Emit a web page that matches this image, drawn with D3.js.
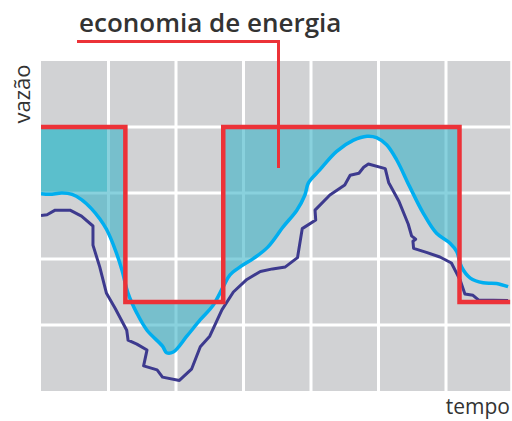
<!DOCTYPE html>
<html>
<head>
<meta charset="utf-8">
<script src="https://cdn.jsdelivr.net/npm/d3@7"></script>
<style>
  body { margin: 0; background: #fff; }
  text { font-family: "Open Sans", sans-serif; fill: #333; }
</style>
</head>
<body>
<div class="chart"></div>
<script>
// grid: 7 columns of time, 5 rows of flow
const xTicks = [0, 1, 2, 3, 4, 5, 6, 7];
const yTicks = [0, 1, 2, 3, 4, 5];

// red step: contracted flow
const stepT = [0, 1.25, 1.25, 2.7, 2.7, 6.2, 6.2, 6.95];
const stepV = [4, 4, 1.35, 1.35, 4, 4, 1.35, 1.35];

// cyan line: consumption curve
const cyanT = [0, 0.13, 0.31, 0.46, 0.6, 0.75, 0.87, 0.97, 1.1, 1.2, 1.29, 1.42, 1.57, 1.8, 1.86, 1.96, 2.16, 2.36, 2.55, 2.7, 2.8, 2.95, 3.15, 3.36, 3.59, 3.79, 3.91, 3.96, 4.13, 4.38, 4.63, 4.83, 4.97, 5.12, 5.27, 5.46, 5.66, 5.86, 6.06, 6.16, 6.23, 6.36, 6.55, 6.75, 6.92];
const cyanV = [2.99, 2.98, 3.0, 2.98, 2.9, 2.76, 2.61, 2.45, 2.14, 1.83, 1.48, 1.18, 0.92, 0.68, 0.58, 0.59, 0.83, 1.08, 1.3, 1.58, 1.76, 1.88, 2.01, 2.18, 2.49, 2.74, 2.97, 3.15, 3.35, 3.63, 3.8, 3.86, 3.84, 3.73, 3.5, 3.1, 2.7, 2.39, 2.24, 2.11, 1.88, 1.71, 1.64, 1.63, 1.58];

// navy line: real flow
const navyT = [0, 0.09, 0.21, 0.43, 0.6, 0.77, 0.77, 0.87, 0.97, 1.1, 1.27, 1.29, 1.42, 1.57, 1.52, 1.72, 1.8, 2.05, 2.23, 2.36, 2.5, 2.68, 2.85, 3.05, 3.25, 3.43, 3.62, 3.8, 3.87, 4.07, 4.06, 4.28, 4.5, 4.58, 4.71, 4.78, 4.85, 5.1, 5.15, 5.3, 5.44, 5.49, 5.55, 5.51, 5.52, 5.71, 5.91, 6.08, 6.21, 6.28, 6.4, 6.48, 6.92];
const navyV = [2.66, 2.67, 2.74, 2.74, 2.65, 2.5, 2.21, 1.88, 1.48, 1.25, 0.92, 0.77, 0.71, 0.62, 0.38, 0.32, 0.21, 0.16, 0.33, 0.67, 0.83, 1.23, 1.5, 1.69, 1.81, 1.85, 1.88, 2.02, 2.46, 2.59, 2.74, 2.97, 3.12, 3.27, 3.3, 3.39, 3.44, 3.37, 3.16, 2.88, 2.53, 2.35, 2.3, 2.27, 2.16, 2.1, 2.03, 1.94, 1.68, 1.47, 1.45, 1.38, 1.37];

const width = 512, height = 421;
const margin = { top: 61, right: -1.5, bottom: 30, left: 41 };

const x = d3.scaleLinear().domain([0, 7]).range([margin.left, width - margin.right]);
const y = d3.scaleLinear().domain([0, 5]).range([height - margin.bottom, margin.top]);
const plotRight = 510.5;

const svg = d3.select('.chart')
  .append('svg')
    .attr('width', width)
    .attr('height', height);

const defs = svg.append('defs');
defs.append('clipPath').attr('id', 'plot')
  .append('rect')
    .attr('x', x(0)).attr('y', y(5))
    .attr('width', plotRight - x(0)).attr('height', y(0) - y(5));

// area below the red step, used to clip the savings fill
const stepData = stepT.map((t, i) => ({ t, v: stepV[i] }));
defs.append('clipPath').attr('id', 'belowStep')
  .append('path')
    .attr('d', d3.area().x(d => x(d.t)).y0(y(0)).y1(d => y(d.v))(stepData));

const plot = svg.append('g').attr('clip-path', 'url(#plot)');

// background + grid
plot.append('rect')
  .attr('x', x(0)).attr('y', y(5))
  .attr('width', plotRight - x(0)).attr('height', y(0) - y(5))
  .attr('fill', '#d1d2d4');

plot.selectAll('.vgrid').data(xTicks.slice(1))
  .join('line')
    .attr('x1', d => x(d)).attr('x2', d => x(d))
    .attr('y1', y(0)).attr('y2', y(5))
    .attr('stroke', '#fff').attr('stroke-width', 3);

plot.selectAll('.hgrid').data(yTicks.slice(1, -1))
  .join('line')
    .attr('x1', x(0)).attr('x2', plotRight)
    .attr('y1', d => y(d)).attr('y2', d => y(d))
    .attr('stroke', '#fff').attr('stroke-width', 3);

// savings area: above cyan line, below red step
const cyanData = cyanT.map((t, i) => ({ t, v: cyanV[i] }));
const fillG = plot.append('g').attr('clip-path', 'url(#belowStep)');
fillG.append('path')
  .attr('d', d3.area().curve(d3.curveCatmullRom).x(d => x(d.t)).y0(y(5)).y1(d => y(d.v))(cyanData))
  .attr('fill', '#3bb3c6')
  .attr('fill-opacity', 0.6);
fillG.append('rect')
  .attr('x', x(0)).attr('y', y(4))
  .attr('width', x(1) - x(0) - 1.5).attr('height', y(3) - y(4) - 1.5)
  .attr('fill', '#5bbfcc');

// navy line
const navyData = navyT.map((t, i) => ({ t, v: navyV[i] }));
plot.append('path')
  .attr('d', d3.line().x(d => x(d.t)).y(d => y(d.v))(navyData))
  .attr('fill', 'none')
  .attr('stroke', '#3d3a8e')
  .attr('stroke-width', 3)
  .attr('stroke-linejoin', 'round');

// cyan line
plot.append('path')
  .attr('d', d3.line().curve(d3.curveCatmullRom).x(d => x(d.t)).y(d => y(d.v))(cyanData))
  .attr('fill', 'none')
  .attr('stroke', '#00aeef')
  .attr('stroke-width', 3.5);

// red step
svg.append('path')
  .attr('d', d3.line().x(d => x(d.t)).y(d => y(d.v))(stepData))
  .attr('fill', 'none')
  .attr('stroke', '#ec3238')
  .attr('stroke-width', 4.5)
  .attr('stroke-linejoin', 'miter');

// annotation leader
svg.append('path')
  .attr('d', `M77,41.5 H278.5 V168`)
  .attr('fill', 'none')
  .attr('stroke', '#ec3238')
  .attr('stroke-width', 3);

svg.append('text')
  .attr('x', 79).attr('y', 32)
  .attr('font-size', 26).attr('font-weight', 600)
  .text('economia de energia');

svg.append('text')
  .attr('transform', `translate(30,94) rotate(-90)`)
  .attr('text-anchor', 'middle')
  .attr('font-size', 22)
  .text('vazão');

svg.append('text')
  .attr('x', 510).attr('y', 414)
  .attr('text-anchor', 'end')
  .attr('font-size', 21)
  .text('tempo');
</script>
</body>
</html>
